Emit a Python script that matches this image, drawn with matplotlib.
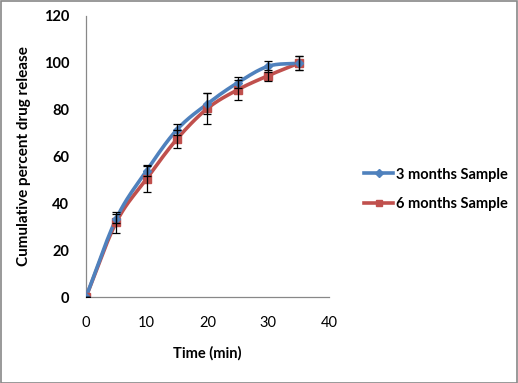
import numpy as np
import matplotlib
matplotlib.use("Agg")
import matplotlib.pyplot as plt
from matplotlib.lines import Line2D
from matplotlib.patches import Rectangle

# data
time_min = [0, 5, 10, 15, 20, 25, 30, 35]
release_3m = [0, 33.5, 54.0, 71.5, 82.5, 91.5, 98.5, 99.8]
err_3m = [0, 2.0, 2.5, 2.5, 4.5, 2.3, 2.4, 3.0]
release_6m = [0, 32.0, 50.5, 67.5, 80.5, 88.5, 94.5, 99.8]
err_6m = [0, 4.5, 5.5, 3.8, 6.5, 4.3, 2.3, 3.0]

BLUE = "#4F81BD"
RED = "#C0504D"
plt.rcParams["font.family"] = ["Lato", "DejaVu Sans"]


def smooth(x, y, n=20):
    # catmull-rom curve through the points, like Excel's smoothed line
    x = np.asarray(x, float)
    y = np.asarray(y, float)
    px = np.concatenate([[2 * x[0] - x[1]], x, [2 * x[-1] - x[-2]]])
    py = np.concatenate([[2 * y[0] - y[1]], y, [2 * y[-1] - y[-2]]])
    xs, ys = [], []
    t = np.linspace(0, 1, n, endpoint=False)
    for i in range(1, len(px) - 2):
        for p, out in ((px, xs), (py, ys)):
            p0, p1, p2, p3 = p[i - 1], p[i], p[i + 1], p[i + 2]
            out.extend(0.5 * (2 * p1 + (-p0 + p2) * t
                              + (2 * p0 - 5 * p1 + 4 * p2 - p3) * t ** 2
                              + (-p0 + 3 * p1 - 3 * p2 + p3) * t ** 3))
    xs.append(x[-1])
    ys.append(y[-1])
    return np.array(xs), np.array(ys)


fig = plt.figure(figsize=(5.18, 3.83), dpi=100)
ax = fig.add_axes([0.166, 0.2245, 0.469, 0.734])

for y, e, c, m, ms in ((release_6m, err_6m, RED, "s", 6),
                       (release_3m, err_3m, BLUE, "D", 4.5)):
    sx, sy = smooth(time_min, y)
    ax.plot(sx, sy, color=c, lw=2.6, zorder=3, solid_capstyle="round")
    ax.plot(time_min, y, ls="none", marker=m, ms=ms, color=c, zorder=4)
    ax.errorbar(time_min, y, yerr=e, fmt="none", ecolor="black",
                elinewidth=0.9, capsize=3, capthick=0.9, zorder=5)

ax.set_xlim(0, 40)
ax.set_ylim(0, 120)
ax.set_xticks(range(0, 41, 10))
ax.set_yticks(range(0, 121, 20))
for s in ("top", "right"):
    ax.spines[s].set_visible(False)
for s in ("left", "bottom"):
    ax.spines[s].set_color("#888888")
    ax.spines[s].set_linewidth(0.9)
ax.tick_params(length=0, labelsize=10.5)
ax.tick_params(axis="x", pad=14)
ax.tick_params(axis="y", pad=12)
for lab in ax.get_yticklabels():
    lab.set_fontweight("bold")
ax.set_xlabel("Time (min)", fontsize=10.5, fontweight="bold", labelpad=11)
ax.set_ylabel("Cumulative percent drug release", fontsize=11,
              fontweight="bold", labelpad=9)

handles = [Line2D([], [], color=BLUE, lw=2.6, marker="D", ms=4),
           Line2D([], [], color=RED, lw=2.6, marker="s", ms=5)]
fig.legend(handles, ["3 months Sample", "6 months Sample"],
           loc="center left", bbox_to_anchor=(0.678, 0.506), frameon=False,
           prop={"weight": "bold", "size": 10.5}, handlelength=2.0,
           handletextpad=0.2, labelspacing=1.05)

fig.patches.append(Rectangle((0.001, 0.001), 0.997, 0.996,
                             transform=fig.transFigure, fill=False,
                             edgecolor="#888888", lw=1.2))

fig.savefig("out.png", dpi=100, facecolor="white")
